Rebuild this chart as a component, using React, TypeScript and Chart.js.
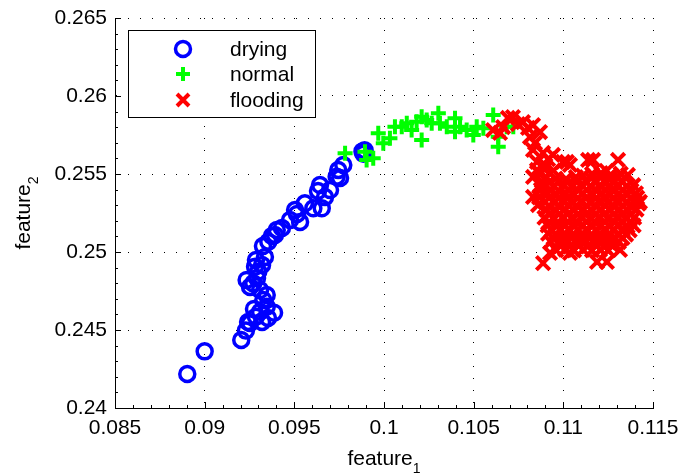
import { useEffect, useRef } from 'react';
import { Chart, registerables } from 'chart.js';

Chart.register(...registerables);

// feature_1 / feature_2 pairs for each operating state
const dryingPoints: [number, number][] = [
  [0.08903, 0.24218], [0.09000, 0.24363], [0.09204, 0.24436], [0.09230, 0.24496],
  [0.09242, 0.24551], [0.09253, 0.24545], [0.09286, 0.24585], [0.09275, 0.24635],
  [0.09309, 0.24617], [0.09320, 0.24551], [0.09353, 0.24577], [0.09346, 0.24649],
  [0.09387, 0.24611], [0.09327, 0.24692], [0.09346, 0.24724], [0.09309, 0.24756],
  [0.09253, 0.24776], [0.09271, 0.24799], [0.09234, 0.24821], [0.09292, 0.24833],
  [0.09299, 0.24874], [0.09281, 0.24906], [0.09320, 0.24917], [0.09286, 0.24949],
  [0.09336, 0.24968], [0.09325, 0.25038], [0.09355, 0.25066], [0.09375, 0.25103],
  [0.09392, 0.25109], [0.09402, 0.25141], [0.09431, 0.25154], [0.09476, 0.25205],
  [0.09532, 0.25192], [0.09515, 0.25244], [0.09504, 0.25269], [0.09559, 0.25312],
  [0.09606, 0.25280], [0.09653, 0.25280], [0.09643, 0.25429], [0.09632, 0.25391],
  [0.09671, 0.25352], [0.09699, 0.25397], [0.09736, 0.25483], [0.09755, 0.25474],
  [0.09745, 0.25526], [0.09773, 0.25558], [0.09880, 0.25645], [0.09885, 0.25630],
  [0.09892, 0.25652],
];

const normalPoints: [number, number][] = [
  [0.09783, 0.25633], [0.09894, 0.25643], [0.09940, 0.25601], [0.09903, 0.25590],
  [0.09968, 0.25761], [0.09996, 0.25697], [0.10033, 0.25729], [0.10061, 0.25803],
  [0.10099, 0.25803], [0.10127, 0.25825], [0.10154, 0.25782], [0.10182, 0.25835],
  [0.10210, 0.25867], [0.10238, 0.25846], [0.10210, 0.25718], [0.10266, 0.25825],
  [0.10303, 0.25889], [0.10312, 0.25825], [0.10350, 0.25803], [0.10396, 0.25857],
  [0.10396, 0.25771], [0.10424, 0.25803], [0.10461, 0.25782], [0.10498, 0.25750],
  [0.10517, 0.25803], [0.10554, 0.25793], [0.10609, 0.25878], [0.10637, 0.25739],
  [0.10637, 0.25675], [0.10684, 0.25803], [0.10721, 0.25803],
];

const floodingPoints: [number, number][] = [
  // transition tail
  [0.10608, 0.25782], [0.10664, 0.25801], [0.10647, 0.25763], [0.10691, 0.25859],
  [0.10719, 0.25865], [0.10747, 0.25820], [0.10775, 0.25833], [0.10803, 0.25795],
  [0.10831, 0.25814], [0.10870, 0.25769], [0.10814, 0.25737], [0.10842, 0.25699],
  [0.10831, 0.25654], [0.10887, 0.25635], [0.10942, 0.25622], [0.10998, 0.25577],
  [0.11037, 0.25558], [0.10853, 0.25577], [0.10853, 0.25526], [0.10831, 0.25481],
  [0.10870, 0.25429], [0.10831, 0.25353], [0.10887, 0.25378], [0.10859, 0.25301],
  [0.11020, 0.25577], [0.11138, 0.25590], [0.10870, 0.25500], [0.10880, 0.25455],
  [0.10875, 0.25400], [0.10865, 0.25350], [0.10915, 0.25595], [0.10900, 0.25555],
  // main cluster
  [0.10895, 0.25530], [0.10945, 0.25522], [0.11070, 0.25480], [0.11110, 0.25490],
  [0.11160, 0.25500], [0.11210, 0.25505], [0.11265, 0.25495], [0.11320, 0.25502],
  [0.10905, 0.25478], [0.10958, 0.25470], [0.11155, 0.25472], [0.11212, 0.25480],
  [0.11262, 0.25468], [0.11308, 0.25476], [0.11010, 0.25462], [0.11240, 0.25520],
  [0.10920, 0.25448], [0.10972, 0.25450], [0.11075, 0.25446], [0.11128, 0.25452],
  [0.11180, 0.25447], [0.11232, 0.25450], [0.11280, 0.25445], [0.11330, 0.25449],
  [0.10892, 0.25425], [0.10948, 0.25420], [0.11002, 0.25428], [0.11045, 0.25418],
  [0.11102, 0.25430], [0.11150, 0.25422], [0.11205, 0.25426], [0.11253, 0.25418],
  [0.11302, 0.25430], [0.11352, 0.25421], [0.11390, 0.25428],
  [0.10925, 0.25397], [0.10975, 0.25394], [0.11028, 0.25399], [0.11082, 0.25395],
  [0.11130, 0.25398], [0.11185, 0.25393], [0.11235, 0.25399], [0.11285, 0.25396],
  [0.11332, 0.25398], [0.11380, 0.25394],
  [0.10910, 0.25372], [0.10962, 0.25368], [0.11015, 0.25375], [0.11060, 0.25366],
  [0.11110, 0.25374], [0.11165, 0.25369], [0.11215, 0.25378], [0.11260, 0.25366],
  [0.11310, 0.25372], [0.11355, 0.25369], [0.11405, 0.25376],
  [0.10920, 0.25346], [0.10972, 0.25343], [0.11025, 0.25348], [0.11078, 0.25344],
  [0.11128, 0.25347], [0.11178, 0.25342], [0.11228, 0.25349], [0.11278, 0.25345],
  [0.11328, 0.25347], [0.11378, 0.25343], [0.11412, 0.25348],
  [0.10898, 0.25322], [0.10950, 0.25318], [0.11000, 0.25325], [0.11052, 0.25316],
  [0.11098, 0.25324], [0.11148, 0.25319], [0.11200, 0.25322], [0.11250, 0.25315],
  [0.11298, 0.25326], [0.11350, 0.25318], [0.11398, 0.25324], [0.11420, 0.25310],
  [0.10918, 0.25295], [0.10978, 0.25292], [0.11030, 0.25297], [0.11080, 0.25293],
  [0.11132, 0.25296], [0.11182, 0.25291], [0.11232, 0.25298], [0.11282, 0.25294],
  [0.11335, 0.25296], [0.11385, 0.25293],
  [0.10905, 0.25270], [0.10958, 0.25266], [0.11008, 0.25274], [0.11058, 0.25268],
  [0.11112, 0.25272], [0.11160, 0.25265], [0.11208, 0.25273], [0.11262, 0.25268],
  [0.11312, 0.25271], [0.11360, 0.25264], [0.11408, 0.25272],
  [0.10925, 0.25244], [0.10975, 0.25241], [0.11028, 0.25246], [0.11082, 0.25242],
  [0.11130, 0.25245], [0.11180, 0.25240], [0.11230, 0.25246], [0.11280, 0.25243],
  [0.11330, 0.25245], [0.11378, 0.25241],
  [0.10895, 0.25220], [0.10945, 0.25215], [0.10998, 0.25222], [0.11048, 0.25216],
  [0.11100, 0.25224], [0.11152, 0.25218], [0.11198, 0.25221], [0.11248, 0.25214],
  [0.11300, 0.25222], [0.11350, 0.25217], [0.11395, 0.25220],
  [0.10920, 0.25193], [0.10970, 0.25190], [0.11025, 0.25195], [0.11075, 0.25191],
  [0.11128, 0.25194], [0.11178, 0.25189], [0.11230, 0.25195], [0.11282, 0.25192],
  [0.11330, 0.25194], [0.11375, 0.25190],
  [0.10912, 0.25170], [0.10962, 0.25165], [0.11012, 0.25172], [0.11062, 0.25166],
  [0.11110, 0.25171], [0.11162, 0.25164], [0.11212, 0.25170], [0.11258, 0.25166],
  [0.11310, 0.25172], [0.11358, 0.25165], [0.11392, 0.25170],
  [0.10935, 0.25142], [0.10982, 0.25139], [0.11030, 0.25144], [0.11080, 0.25140],
  [0.11130, 0.25143], [0.11182, 0.25138], [0.11232, 0.25144], [0.11280, 0.25141],
  [0.11332, 0.25143], [0.11370, 0.25139],
  [0.10915, 0.25118], [0.10955, 0.25114], [0.11005, 0.25120], [0.11055, 0.25115],
  [0.11105, 0.25119], [0.11155, 0.25113], [0.11205, 0.25120], [0.11255, 0.25116],
  [0.11305, 0.25118], [0.11350, 0.25112],
  [0.10945, 0.25090], [0.11000, 0.25087], [0.11050, 0.25092], [0.11100, 0.25088],
  [0.11150, 0.25091], [0.11198, 0.25086], [0.11245, 0.25092], [0.11290, 0.25089],
  [0.11330, 0.25090],
  [0.10930, 0.25065], [0.10975, 0.25060], [0.11025, 0.25066], [0.11075, 0.25062],
  [0.11125, 0.25067], [0.11170, 0.25061], [0.11220, 0.25066], [0.11265, 0.25060],
  [0.11310, 0.25064],
  [0.10985, 0.25038], [0.11035, 0.25035], [0.11085, 0.25040], [0.11135, 0.25036],
  [0.11185, 0.25039], [0.11228, 0.25034], [0.11275, 0.25038],
  [0.10960, 0.25012], [0.11010, 0.25016], [0.11060, 0.25010], [0.11110, 0.25015],
  [0.11160, 0.25011], [0.11205, 0.25014], [0.11250, 0.25010],
  // scattered excursions
  [0.11166, 0.25590], [0.11305, 0.25590], [0.11360, 0.25494], [0.11427, 0.25321],
  [0.10887, 0.24929], [0.11188, 0.24936], [0.11243, 0.24936], [0.11316, 0.25013],
  [0.11277, 0.25077], [0.10926, 0.24994], [0.11037, 0.24994],
];

const seriesLabels = ['drying', 'normal', 'flooding'];
const seriesColors = ['#0000ff', '#00ff00', '#ff0000'];

const xTicks = [0.085, 0.09, 0.095, 0.1, 0.105, 0.11, 0.115];
const xTickLabels = ['0.085', '0.09', '0.095', '0.1', '0.105', '0.11', '0.115'];
const yTicks = [0.24, 0.245, 0.25, 0.255, 0.26, 0.265];
const yTickLabels = ['0.24', '0.245', '0.25', '0.255', '0.26', '0.265'];

const FONT = '"Liberation Sans", Arial, Helvetica, sans-serif';

type Marker = 'circle' | 'plus' | 'x';
const markers: Marker[] = ['circle', 'plus', 'x'];

function drawMarker(ctx: CanvasRenderingContext2D, kind: Marker, x: number, y: number, color: string) {
  ctx.save();
  ctx.strokeStyle = color;
  ctx.beginPath();
  if (kind === 'circle') {
    ctx.lineWidth = 3.5;
    ctx.arc(x, y, 7.5, 0, Math.PI * 2);
  } else if (kind === 'plus') {
    ctx.lineWidth = 4;
    ctx.moveTo(x - 7, y); ctx.lineTo(x + 7, y);
    ctx.moveTo(x, y - 7); ctx.lineTo(x, y + 7);
  } else {
    ctx.lineWidth = 4;
    const d = 6;
    ctx.moveTo(x - d, y - d); ctx.lineTo(x + d, y + d);
    ctx.moveTo(x - d, y + d); ctx.lineTo(x + d, y - d);
  }
  ctx.stroke();
  ctx.restore();
}

function minorValues(major: number[]) {
  const out: number[] = [];
  for (let i = 0; i < major.length - 1; i++) {
    const step = (major[i + 1] - major[i]) / 5;
    for (let k = 1; k < 5; k++) out.push(major[i] + step * k);
  }
  return out;
}

// Inward MATLAB-style ticks, axis titles with subscripts, and the boxed legend
const decorPlugin = {
  id: 'decor',
  afterDraw(chart: any) {
    const { ctx, chartArea, scales } = chart;
    const { left, right, top, bottom } = chartArea;
    ctx.save();
    ctx.strokeStyle = '#000';
    ctx.lineWidth = 1;
    ctx.beginPath();
    for (const v of xTicks) {
      const px = Math.round(scales.x.getPixelForValue(v)) + 0.5;
      ctx.moveTo(px, bottom); ctx.lineTo(px, bottom - 6);
    }
    for (const v of minorValues(xTicks)) {
      const px = Math.round(scales.x.getPixelForValue(v)) + 0.5;
      ctx.moveTo(px, bottom); ctx.lineTo(px, bottom - 3);
    }
    for (const v of yTicks) {
      const py = Math.round(scales.y.getPixelForValue(v)) + 0.5;
      ctx.moveTo(left, py); ctx.lineTo(left + 6, py);
    }
    for (const v of minorValues(yTicks)) {
      const py = Math.round(scales.y.getPixelForValue(v)) + 0.5;
      ctx.moveTo(left, py); ctx.lineTo(left + 3, py);
    }
    ctx.stroke();

    // axis titles
    ctx.fillStyle = '#000';
    ctx.textBaseline = 'alphabetic';
    ctx.textAlign = 'left';
    const mainFont = `21px ${FONT}`;
    const subFont = `14px ${FONT}`;
    const drawTitle = (main: string, sub: string, cx: number, baseline: number) => {
      ctx.font = mainFont;
      const w1 = ctx.measureText(main).width;
      ctx.font = subFont;
      const w2 = ctx.measureText(sub).width;
      const start = cx - (w1 + w2) / 2;
      ctx.font = mainFont;
      ctx.fillText(main, start, baseline);
      ctx.font = subFont;
      ctx.fillText(sub, start + w1, baseline + 8);
    };
    drawTitle('feature', '1', (left + right) / 2, 465);
    ctx.save();
    ctx.translate(30, (top + bottom) / 2);
    ctx.rotate(-Math.PI / 2);
    drawTitle('feature', '2', 0, 0);
    ctx.restore();

    // legend
    const bx = 128.5, by = 30.5, bw = 187, bh = 87;
    ctx.fillStyle = '#fff';
    ctx.fillRect(bx, by, bw, bh);
    ctx.strokeStyle = '#000';
    ctx.lineWidth = 1;
    ctx.strokeRect(bx, by, bw, bh);
    const rows = [49, 74, 100];
    ctx.font = `21px ${FONT}`;
    ctx.textBaseline = 'middle';
    seriesLabels.forEach((label, i) => {
      drawMarker(ctx, markers[i], 183, rows[i], seriesColors[i]);
      ctx.fillStyle = '#000';
      ctx.fillText(label, 230, rows[i] + 1);
    });
    ctx.restore();
  },
};

export default function App() {
  const canvasRef = useRef<HTMLCanvasElement | null>(null);

  useEffect(() => {
    document.body.style.margin = '0';
    const canvas = canvasRef.current;
    if (!canvas) return;
    const toXY = (pts: [number, number][]) => pts.map(([x, y]) => ({ x, y }));
    const chart = new Chart(canvas, {
      type: 'scatter',
      data: {
        datasets: [
          {
            label: seriesLabels[0],
            data: toXY(dryingPoints),
            pointStyle: 'circle',
            pointRadius: 7.5,
            pointBorderWidth: 3.5,
            pointBorderColor: seriesColors[0],
            pointBackgroundColor: 'rgba(0,0,0,0)',
            borderColor: seriesColors[0],
            backgroundColor: 'rgba(0,0,0,0)',
            order: 3,
          },
          {
            label: seriesLabels[1],
            data: toXY(normalPoints),
            pointStyle: 'cross',
            pointRadius: 7.5,
            pointBorderWidth: 4,
            pointBorderColor: seriesColors[1],
            pointBackgroundColor: seriesColors[1],
            borderColor: seriesColors[1],
            order: 2,
          },
          {
            label: seriesLabels[2],
            data: toXY(floodingPoints),
            pointStyle: 'crossRot',
            pointRadius: 9.5,
            pointBorderWidth: 4,
            pointBorderColor: seriesColors[2],
            pointBackgroundColor: seriesColors[2],
            borderColor: seriesColors[2],
            order: 1,
          },
        ],
      },
      options: {
        animation: false,
        responsive: false,
        events: [],
        layout: { padding: { top: 18, right: 30, left: 0, bottom: 0 } },
        plugins: { legend: { display: false }, tooltip: { enabled: false } },
        scales: {
          x: {
            type: 'linear',
            min: 0.085,
            max: 0.115,
            afterBuildTicks: (s: any) => { s.ticks = xTicks.map((value) => ({ value })); },
            afterFit: (s: any) => { s.height = 68; s.paddingLeft = 0; s.paddingRight = 0; },
            ticks: {
              callback: (_v: any, i: number) => xTickLabels[i],
              font: { family: FONT, size: 21 },
              color: '#000',
              padding: 8,
              maxRotation: 0,
              autoSkip: false,
            },
            grid: { color: '#000', lineWidth: 1, drawTicks: false },
            border: { display: true, color: '#000', width: 1, dash: [1, 11] },
          },
          y: {
            type: 'linear',
            min: 0.24,
            max: 0.265,
            afterBuildTicks: (s: any) => { s.ticks = yTicks.map((value) => ({ value })); },
            afterFit: (s: any) => { s.width = 115; s.paddingTop = 0; s.paddingBottom = 0; },
            ticks: {
              callback: (_v: any, i: number) => yTickLabels[i],
              font: { family: FONT, size: 21 },
              color: '#000',
              padding: 8,
              autoSkip: false,
            },
            grid: { color: '#000', lineWidth: 1, drawTicks: false },
            border: { display: true, color: '#000', width: 1, dash: [1, 11] },
          },
        },
      },
      plugins: [decorPlugin],
    } as any);
    return () => chart.destroy();
  }, []);

  return (
    <div style={{ position: 'absolute', left: 0, top: 0, width: 683, height: 476, background: '#fff' }}>
      <canvas ref={canvasRef} width={683} height={476} style={{ width: 683, height: 476, display: 'block' }} />
    </div>
  );
}
